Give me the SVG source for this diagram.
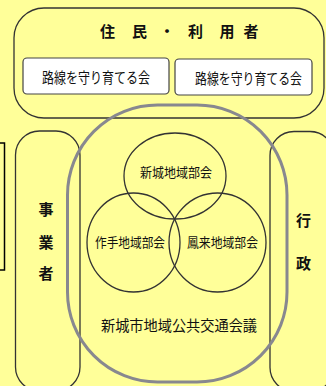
<svg xmlns="http://www.w3.org/2000/svg" width="326" height="386" viewBox="0 0 326 386">
<style>
.ln{fill:none;stroke:#333;stroke-width:1.3}
.t{font-family:"Noto Sans CJK JP","Noto Sans CJK SC",sans-serif;fill:#111;text-anchor:middle;dominant-baseline:central}
.b{font-weight:bold;font-size:15px}
.c{font-size:13px}
</style>
<rect x="0" y="0" width="326" height="386" fill="#ffff99"/>
<g id="left-box"><rect x="-10" y="143" width="14.5" height="127" fill="none" stroke="#000" stroke-width="1.5"/></g>
<g id="jigyosha">
<rect class="ln" x="15.5" y="131" width="64.5" height="260" rx="24"/>
<text class="t b" x="46" y="208">事</text>
<text class="t b" x="46" y="241">業</text>
<text class="t b" x="46" y="272">者</text>
</g>
<g id="gyosei">
<rect class="ln" x="270" y="131.5" width="64" height="260" rx="24"/>
<text class="t b" x="303.5" y="219">行</text>
<text class="t b" x="303.5" y="262">政</text>
</g>
<g id="jumin">
<rect class="ln" x="14" y="8" width="310" height="110" rx="30"/>
<text class="t b" x="107.5" y="30">住</text>
<text class="t b" x="139.5" y="30">民</text>
<text class="t b" x="167" y="30">・</text>
<text class="t b" x="195.5" y="30">利</text>
<text class="t b" x="227" y="30">用</text>
<text class="t b" x="251" y="30">者</text>
</g>
<g id="kai1">
<rect x="23" y="58" width="146" height="36" rx="4" fill="#fff" stroke="#444" stroke-width="1.2"/>
<text class="t" x="96" y="76" font-size="14.5" textLength="108" lengthAdjust="spacingAndGlyphs">路線を守り育てる会</text>
</g>
<g id="kai2">
<rect x="175" y="59" width="137" height="36" rx="4" fill="#fff" stroke="#444" stroke-width="1.2"/>
<text class="t" x="248.5" y="77" font-size="14.5" textLength="107" lengthAdjust="spacingAndGlyphs">路線を守り育てる会</text>
</g>
<g id="kaigi">
<rect x="67.5" y="105" width="219.5" height="277" rx="90" fill="none" stroke="#88888f" stroke-width="3"/>
<text class="t" x="179" y="324.5" font-size="14.5" textLength="156" lengthAdjust="spacingAndGlyphs">新城市地域公共交通会議</text>
</g>
<g id="shinshiro">
<ellipse class="ln" cx="175" cy="176" rx="51" ry="43"/>
<text class="t c" x="176" y="171" textLength="72" lengthAdjust="spacingAndGlyphs">新城地域部会</text>
</g>
<g id="tsukude">
<ellipse class="ln" cx="133.5" cy="242.5" rx="46.5" ry="49.5"/>
<text class="t c" x="130" y="241" textLength="70" lengthAdjust="spacingAndGlyphs">作手地域部会</text>
</g>
<g id="horai">
<ellipse class="ln" cx="217.5" cy="242.5" rx="48.5" ry="49.5"/>
<text class="t c" x="222.5" y="241" textLength="71" lengthAdjust="spacingAndGlyphs">鳳来地域部会</text>
</g>
<g id="connectors"></g>
</svg>
